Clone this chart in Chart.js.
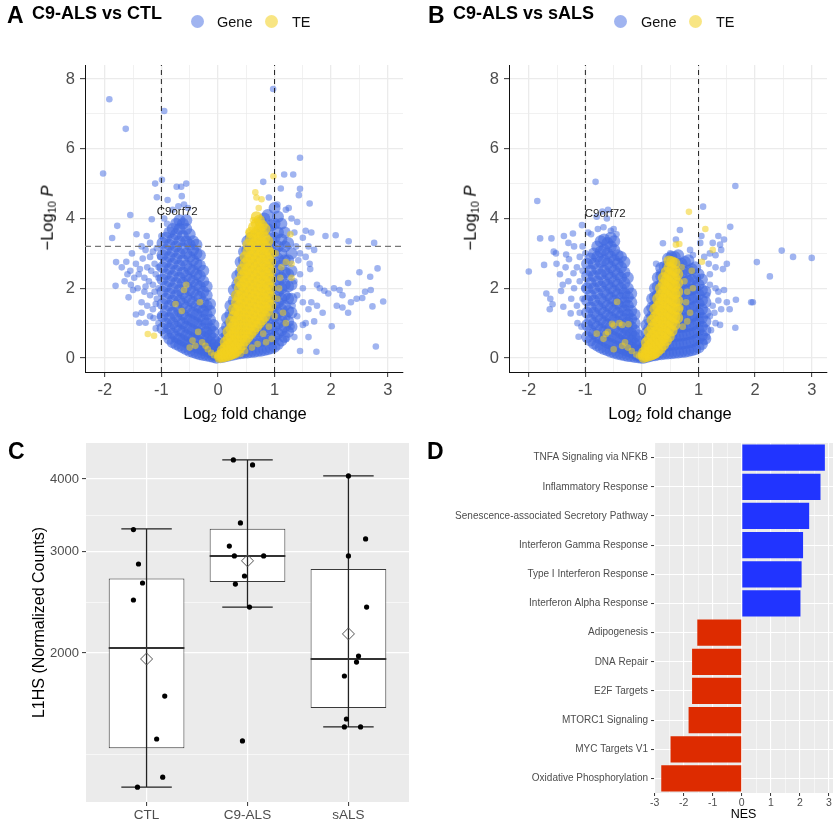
<!DOCTYPE html>
<html>
<head>
<meta charset="utf-8">
<title>C9-ALS transcriptome panels</title>
<script src="https://cdn.jsdelivr.net/npm/chart.js@4.4.1/dist/chart.umd.min.js"></script>
<style>
  html, body { margin: 0; padding: 0; background: #fff; }
  #fig { position: relative; width: 837px; height: 822px; overflow: hidden;
         font-family: "Liberation Sans", Arial, Helvetica, sans-serif; color: #000; }
  #fig canvas { position: absolute; }
  .lbl { position: absolute; white-space: nowrap; line-height: 1; }
  .letter { font-size: 23px; font-weight: bold; }
  .ttl { font-size: 18px; font-weight: bold; }
  .leg { font-size: 14.5px; color: #111; }
  .dot { position: absolute; width: 13px; height: 13px; border-radius: 50%; }
  .axt { font-size: 16.5px; }
  .axt sub { font-size: 11px; vertical-align: -3px; line-height: 0; }
  .rot { transform: translate(-50%, -50%) rotate(-90deg); }
  .ctr { transform: translate(-50%, -50%); }
</style>
</head>
<body>
<div id="fig">
  <canvas id="volcanoA" width="420" height="400" style="left:0;top:0"></canvas>
  <canvas id="volcanoB" width="417" height="400" style="left:420px;top:0"></canvas>
  <canvas id="boxC" width="420" height="402" style="left:0;top:420px"></canvas>
  <canvas id="gseaD" width="417" height="402" style="left:420px;top:420px"></canvas>

  <div class="lbl letter" style="left:7px;top:4px">A</div>
  <div class="lbl ttl" style="left:32px;top:4px">C9-ALS vs CTL</div>
  <span class="dot" style="left:191px;top:15px;background:rgba(65,105,225,0.5)"></span>
  <div class="lbl leg" style="left:217px;top:15px">Gene</div>
  <span class="dot" style="left:265px;top:15px;background:rgba(242,208,30,0.55)"></span>
  <div class="lbl leg" style="left:292px;top:15px">TE</div>
  <div class="lbl axt rot" style="left:47px;top:218px">&minus;Log<sub>10</sub> <i>P</i></div>
  <div class="lbl axt ctr" style="left:245px;top:413px">Log<sub>2</sub> fold change</div>

  <div class="lbl letter" style="left:428px;top:4px">B</div>
  <div class="lbl ttl" style="left:453px;top:4px">C9-ALS vs sALS</div>
  <span class="dot" style="left:614px;top:15px;background:rgba(65,105,225,0.5)"></span>
  <div class="lbl leg" style="left:641px;top:15px">Gene</div>
  <span class="dot" style="left:689px;top:15px;background:rgba(242,208,30,0.55)"></span>
  <div class="lbl leg" style="left:716px;top:15px">TE</div>
  <div class="lbl axt rot" style="left:470px;top:218px">&minus;Log<sub>10</sub> <i>P</i></div>
  <div class="lbl axt ctr" style="left:670px;top:413px">Log<sub>2</sub> fold change</div>

  <div class="lbl letter" style="left:8px;top:440px">C</div>
  <div class="lbl letter" style="left:427px;top:440px">D</div>
</div>

<script>
// ---------- panel A: C9-ALS vs CTL (log2FC, -log10 P) ----------
// dense clouds are kept as columns: [log2FC, [-log10P values ...]]
const geneA_dense = [
  [-0.98, [0.85, 1.2, 1.55, 1.9, 2.25, 2.6, 2.95, 3.3]],
  [-0.92, [0.7, 1.0, 1.35, 1.7, 2.05, 2.4, 2.75, 3.1, 3.45]],
  [-0.86, [0.55, 0.85, 1.15, 1.5, 1.85, 2.2, 2.55, 2.9, 3.25, 3.6]],
  [-0.8, [0.45, 0.7, 1.0, 1.3, 1.65, 2.0, 2.35, 2.7, 3.05, 3.4, 3.7]],
  [-0.74, [0.4, 0.6, 0.9, 1.2, 1.5, 1.8, 2.15, 2.5, 2.85, 3.2, 3.55, 3.85]],
  [-0.68, [0.35, 0.55, 0.8, 1.05, 1.35, 1.65, 1.95, 2.3, 2.65, 3.0, 3.35, 3.7, 3.95]],
  [-0.62, [0.3, 0.5, 0.75, 1.0, 1.25, 1.55, 1.85, 2.15, 2.45, 2.8, 3.15, 3.5, 3.85]],
  [-0.56, [0.25, 0.45, 0.65, 0.9, 1.15, 1.45, 1.75, 2.05, 2.35, 2.65, 3.0, 3.35, 3.7, 3.95]],
  [-0.5, [0.2, 0.4, 0.6, 0.85, 1.1, 1.35, 1.65, 1.95, 2.25, 2.55, 2.9, 3.25, 3.55]],
  [-0.44, [0.17, 0.35, 0.55, 0.8, 1.05, 1.3, 1.6, 1.9, 2.2, 2.5, 2.8, 3.1, 3.35]],
  [-0.38, [0.14, 0.3, 0.5, 0.75, 1.0, 1.25, 1.5, 1.8, 2.1, 2.4, 2.7, 3.0, 3.25]],
  [-0.32, [0.11, 0.27, 0.45, 0.7, 0.95, 1.2, 1.45, 1.75, 2.05, 2.35, 2.65, 2.95]],
  [-0.26, [0.09, 0.24, 0.4, 0.6, 0.85, 1.1, 1.35, 1.6, 1.9, 2.2, 2.5]],
  [-0.2, [0.07, 0.2, 0.35, 0.55, 0.75, 1.0, 1.25, 1.5, 1.8, 2.05]],
  [-0.14, [0.05, 0.16, 0.3, 0.45, 0.65, 0.85, 1.1, 1.35, 1.55]],
  [-0.08, [0.03, 0.12, 0.24, 0.38, 0.55, 0.75, 0.95]],
  [-0.03, [0.01, 0.08, 0.18, 0.3, 0.45]],
  [0.04, [0.02, 0.12, 0.25, 0.4]],
  [0.1, [0.04, 0.18, 0.35, 0.55, 0.75]],
  [0.16, [0.06, 0.22, 0.42, 0.65, 0.9, 1.15]],
  [0.22, [0.08, 0.26, 0.5, 0.75, 1.0, 1.25, 1.5]],
  [0.28, [0.1, 0.3, 0.55, 0.8, 1.05, 1.35, 1.65, 1.95]],
  [0.34, [0.12, 0.33, 0.6, 0.9, 1.2, 1.5, 1.8, 2.1, 2.35]],
  [0.4, [0.14, 0.36, 0.65, 0.95, 1.25, 1.55, 1.85, 2.15, 2.45, 2.75]],
  [0.46, [0.15, 0.38, 0.7, 1.0, 1.3, 1.6, 1.9, 2.2, 2.5, 2.8, 3.05]],
  [0.52, [0.16, 0.4, 0.7, 1.0, 1.3, 1.6, 1.9, 2.2, 2.5, 2.8, 3.1, 3.35]],
  [0.58, [0.17, 0.42, 0.72, 1.02, 1.32, 1.62, 1.92, 2.22, 2.52, 2.82, 3.12, 3.45]],
  [0.64, [0.18, 0.44, 0.75, 1.05, 1.35, 1.65, 1.95, 2.25, 2.55, 2.85, 3.15, 3.5]],
  [0.7, [0.2, 0.46, 0.76, 1.06, 1.36, 1.66, 1.96, 2.26, 2.56, 2.86, 3.2, 3.55]],
  [0.76, [0.21, 0.48, 0.78, 1.08, 1.38, 1.68, 1.98, 2.28, 2.58, 2.9, 3.25, 3.6, 3.9]],
  [0.82, [0.23, 0.5, 0.8, 1.1, 1.4, 1.7, 2.0, 2.3, 2.6, 2.95, 3.3, 3.65, 4.0]],
  [0.88, [0.25, 0.52, 0.82, 1.12, 1.42, 1.72, 2.02, 2.32, 2.62, 2.95, 3.3, 3.7, 4.1]],
  [0.94, [0.28, 0.55, 0.85, 1.15, 1.45, 1.75, 2.05, 2.35, 2.7, 3.05, 3.4, 3.8]],
  [1.0, [0.32, 0.6, 0.9, 1.2, 1.5, 1.8, 2.1, 2.4, 2.75, 3.1, 3.45, 3.85, 4.3]],
  [1.06, [0.4, 0.7, 1.0, 1.3, 1.6, 1.9, 2.2, 2.5, 2.85, 3.2, 3.6, 4.05]],
  [1.12, [0.5, 0.8, 1.1, 1.4, 1.7, 2.0, 2.3, 2.65, 3.0, 3.4, 3.85]],
  [1.18, [0.6, 0.9, 1.2, 1.5, 1.8, 2.1, 2.45, 2.8, 3.2, 3.6]],
  [1.24, [0.75, 1.05, 1.35, 1.7, 2.05, 2.4, 2.8, 3.3]],
  [1.3, [0.9, 1.3, 1.7, 2.1, 2.5, 3.0]]
];
const geneA_sparse = [
  [-2.03, 5.29], [-1.92, 7.42], [-1.63, 6.57], [-0.95, 7.08], [-0.99, 5.11], [-1.11, 5.0], [-1.08, 4.61],
  [-0.73, 4.91], [-0.65, 4.91], [-0.56, 5.0], [-0.89, 4.53], [-0.64, 4.64], [-0.6, 4.4], [-0.53, 4.3],
  [-0.8, 4.25], [-0.7, 4.35], [-0.95, 4.0], [-0.9, 3.85],
  [-1.55, 4.1], [-1.17, 3.98], [-1.78, 3.79], [-1.44, 3.55], [-1.87, 3.44], [-1.26, 3.5], [-1.35, 3.2],
  [-1.8, 2.75], [-1.62, 2.76], [-1.81, 2.07], [-1.58, 1.74], [-1.54, 2.1], [-1.39, 1.01], [-1.28, 1.01], [-1.1, 0.85],
  [-1.52, 3.0], [-1.45, 2.7], [-1.4, 2.4], [-1.48, 2.3], [-1.42, 2.0], [-1.5, 1.95], [-1.35, 1.6], [-1.3, 1.9],
  [-1.3, 2.3], [-1.25, 2.6], [-1.2, 2.9], [-1.2, 3.3], [-1.15, 3.05], [-1.12, 2.7], [-1.1, 2.4], [-1.15, 2.1],
  [-1.2, 1.8], [-1.25, 1.5], [-1.2, 1.2], [-1.15, 1.4], [-1.08, 1.7], [-1.05, 2.0], [-1.05, 2.3], [-1.05, 2.6],
  [-1.02, 2.9], [-1.08, 3.15], [-1.0, 3.5], [-1.02, 1.2], [-1.05, 1.0], [-1.35, 1.3], [-1.45, 1.25], [-1.33, 2.85],
  [-1.38, 2.55], [-1.6, 2.4], [-1.65, 2.2], [-1.55, 2.5], [-1.7, 2.6], [-1.28, 3.1], [-1.18, 2.5], [-1.12, 1.9],
  [-1.28, 2.05], [-1.22, 2.2], [-1.1, 1.55], [-1.14, 1.15],
  [0.975, 7.71], [1.45, 5.74], [1.17, 5.26], [1.33, 5.26], [0.8, 5.05], [1.45, 4.85], [1.43, 4.67], [1.11, 4.86],
  [1.62, 4.43], [0.9, 4.6], [1.05, 4.4], [1.2, 4.25], [1.25, 4.3], [1.3, 4.0], [1.4, 3.9], [1.35, 3.6],
  [1.55, 3.65], [1.65, 3.6], [1.5, 3.45], [1.6, 3.2], [1.7, 3.1], [1.9, 3.5], [2.08, 3.52], [2.31, 3.35], [2.76, 3.3],
  [1.45, 3.0], [1.55, 2.9], [1.62, 2.7], [1.63, 2.55], [1.42, 2.8], [1.38, 3.2], [1.35, 2.2], [1.45, 2.4],
  [1.5, 2.0], [1.4, 1.8], [1.65, 1.6], [1.5, 1.6], [1.75, 2.1], [1.8, 2.0], [1.88, 1.93], [1.95, 1.85],
  [2.05, 2.0], [2.15, 1.95], [2.2, 1.8], [2.3, 2.15], [2.35, 1.6], [2.45, 1.7], [2.55, 1.72], [2.6, 1.9],
  [2.7, 1.95], [2.5, 2.46], [2.82, 2.57], [2.69, 2.33], [2.92, 1.62], [2.73, 1.48], [2.1, 1.5], [2.2, 1.45],
  [2.3, 1.3], [1.85, 1.3], [1.75, 1.5], [1.7, 1.05], [1.6, 1.4], [1.4, 1.2], [1.32, 1.5], [1.3, 0.9],
  [1.55, 1.0], [1.5, 0.95], [1.35, 0.6], [1.2, 0.55], [1.6, 0.6], [2.01, 0.91], [2.79, 0.33], [1.74, 0.18], [1.45, 0.2]
];
const teA_dense = [
  [0.03, [0.02, 0.08]],
  [0.08, [0.03, 0.12, 0.22]],
  [0.13, [0.05, 0.16, 0.3, 0.45]],
  [0.18, [0.07, 0.2, 0.36, 0.55, 0.75]],
  [0.23, [0.1, 0.25, 0.42, 0.62, 0.85, 1.05]],
  [0.28, [0.14, 0.3, 0.5, 0.72, 0.95, 1.2, 1.4]],
  [0.33, [0.2, 0.38, 0.6, 0.85, 1.1, 1.35, 1.6, 1.8]],
  [0.38, [0.28, 0.48, 0.72, 0.98, 1.25, 1.5, 1.75, 2.0, 2.2]],
  [0.43, [0.38, 0.6, 0.85, 1.1, 1.35, 1.6, 1.85, 2.1, 2.35, 2.55]],
  [0.48, [0.5, 0.72, 0.96, 1.2, 1.45, 1.7, 1.95, 2.2, 2.45, 2.7, 2.9]],
  [0.53, [0.6, 0.84, 1.08, 1.32, 1.56, 1.8, 2.05, 2.3, 2.55, 2.8, 3.05, 3.25]],
  [0.58, [0.7, 0.94, 1.18, 1.42, 1.66, 1.9, 2.15, 2.4, 2.65, 2.9, 3.15, 3.4, 3.6]],
  [0.63, [0.8, 1.04, 1.28, 1.52, 1.76, 2.0, 2.25, 2.5, 2.75, 3.0, 3.25, 3.5, 3.75]],
  [0.68, [0.9, 1.14, 1.38, 1.62, 1.86, 2.1, 2.35, 2.6, 2.85, 3.1, 3.35, 3.6, 3.85, 4.05]],
  [0.73, [1.0, 1.24, 1.48, 1.72, 1.96, 2.2, 2.45, 2.7, 2.95, 3.2, 3.45, 3.7, 3.95]],
  [0.78, [1.1, 1.34, 1.58, 1.82, 2.06, 2.3, 2.55, 2.8, 3.05, 3.3, 3.55, 3.8]],
  [0.83, [1.2, 1.45, 1.7, 1.95, 2.2, 2.45, 2.7, 2.95, 3.2, 3.45, 3.7]],
  [0.88, [1.35, 1.6, 1.85, 2.1, 2.35, 2.6, 2.85, 3.1, 3.35]],
  [0.93, [1.5, 1.75, 2.0, 2.25, 2.5, 2.75, 3.0]]
];
const teA_sparse = [
  [0.98, 5.21], [0.66, 4.75], [0.68, 4.6], [0.77, 4.55], [0.72, 4.3], [0.62, 3.95], [0.55, 3.6],
  [-0.56, 2.1], [-0.6, 1.95], [-0.75, 1.55], [-0.64, 1.35], [-0.32, 1.6], [-0.35, 0.75], [-0.28, 0.45],
  [-0.22, 0.35], [-0.18, 0.25], [-0.12, 0.15], [-0.07, 0.08], [-1.24, 0.69], [-1.13, 0.64],
  [1.1, 2.3], [1.12, 2.6], [1.2, 2.75], [1.3, 2.3], [1.3, 2.7], [1.28, 3.55], [1.05, 1.7], [1.08, 2.0],
  [1.02, 3.0], [0.95, 0.55], [0.85, 0.45], [0.7, 0.4], [0.8, 0.7], [0.6, 0.3], [0.4, 0.12], [0.48, 0.2],
  [1.15, 1.3], [1.2, 1.0], [1.0, 1.2], [0.9, 0.9], [-0.45, 0.5], [-0.5, 0.3], [-0.4, 0.35],
  [0.15, 0.03], [0.25, 0.06], [0.32, 0.08]
];

// ---------- panel B: C9-ALS vs sALS ----------
const geneB_dense = [
  [-0.97, [0.6, 0.95, 1.3, 1.65, 2.0, 2.35, 2.7]],
  [-0.91, [0.5, 0.8, 1.1, 1.45, 1.8, 2.15, 2.5, 2.85]],
  [-0.85, [0.42, 0.7, 1.0, 1.3, 1.65, 2.0, 2.35, 2.7, 3.0]],
  [-0.79, [0.36, 0.6, 0.9, 1.2, 1.5, 1.85, 2.2, 2.55, 2.9, 3.2]],
  [-0.73, [0.3, 0.55, 0.82, 1.1, 1.4, 1.7, 2.05, 2.4, 2.75, 3.05, 3.35]],
  [-0.67, [0.26, 0.5, 0.76, 1.02, 1.3, 1.6, 1.9, 2.2, 2.5, 2.8, 3.1, 3.4]],
  [-0.61, [0.22, 0.44, 0.7, 0.96, 1.22, 1.5, 1.8, 2.1, 2.4, 2.7, 3.0, 3.3]],
  [-0.55, [0.18, 0.4, 0.64, 0.9, 1.16, 1.44, 1.72, 2.0, 2.3, 2.6, 2.9, 3.2, 3.45]],
  [-0.49, [0.15, 0.36, 0.6, 0.85, 1.1, 1.36, 1.64, 1.92, 2.2, 2.5, 2.8, 3.1, 3.35]],
  [-0.43, [0.12, 0.32, 0.55, 0.8, 1.05, 1.3, 1.56, 1.82, 2.1, 2.4, 2.7, 2.95]],
  [-0.37, [0.1, 0.28, 0.5, 0.72, 0.96, 1.2, 1.46, 1.72, 2.0, 2.3, 2.6, 2.9]],
  [-0.31, [0.08, 0.24, 0.44, 0.65, 0.88, 1.12, 1.36, 1.6, 1.86, 2.15, 2.45, 2.75]],
  [-0.25, [0.06, 0.2, 0.38, 0.58, 0.8, 1.02, 1.25, 1.5, 1.75, 2.0, 2.3]],
  [-0.19, [0.05, 0.17, 0.32, 0.5, 0.7, 0.9, 1.12, 1.35, 1.6, 1.85]],
  [-0.13, [0.03, 0.13, 0.26, 0.42, 0.6, 0.8, 1.0, 1.25]],
  [-0.07, [0.02, 0.09, 0.2, 0.33, 0.48, 0.65]],
  [-0.02, [0.01, 0.06, 0.14, 0.22]],
  [0.03, [0.01, 0.08, 0.18, 0.3]],
  [0.08, [0.03, 0.14, 0.3, 0.5, 0.72, 0.95]],
  [0.13, [0.05, 0.2, 0.4, 0.62, 0.86, 1.1, 1.35]],
  [0.18, [0.07, 0.24, 0.46, 0.7, 0.95, 1.2, 1.45, 1.7]],
  [0.23, [0.08, 0.28, 0.5, 0.75, 1.0, 1.25, 1.5, 1.75, 2.0]],
  [0.28, [0.1, 0.3, 0.54, 0.78, 1.02, 1.28, 1.54, 1.8, 2.05, 2.3]],
  [0.34, [0.11, 0.32, 0.56, 0.8, 1.05, 1.3, 1.56, 1.82, 2.08, 2.34, 2.58]],
  [0.4, [0.12, 0.34, 0.58, 0.82, 1.07, 1.32, 1.58, 1.84, 2.1, 2.36, 2.62]],
  [0.46, [0.13, 0.36, 0.6, 0.84, 1.08, 1.34, 1.6, 1.86, 2.12, 2.38, 2.64, 2.85]],
  [0.52, [0.14, 0.38, 0.62, 0.86, 1.1, 1.36, 1.62, 1.88, 2.14, 2.4, 2.66, 2.9]],
  [0.58, [0.15, 0.38, 0.62, 0.86, 1.1, 1.36, 1.62, 1.88, 2.14, 2.4, 2.66, 2.9]],
  [0.64, [0.16, 0.4, 0.64, 0.88, 1.12, 1.38, 1.64, 1.9, 2.16, 2.42, 2.68, 2.95]],
  [0.7, [0.17, 0.4, 0.64, 0.88, 1.12, 1.38, 1.64, 1.9, 2.16, 2.42, 2.7]],
  [0.76, [0.18, 0.42, 0.66, 0.9, 1.14, 1.4, 1.66, 1.92, 2.18, 2.45, 2.75]],
  [0.82, [0.2, 0.44, 0.68, 0.92, 1.16, 1.42, 1.68, 1.94, 2.2, 2.5, 2.8]],
  [0.88, [0.22, 0.46, 0.7, 0.94, 1.18, 1.44, 1.7, 1.96, 2.24, 2.55]],
  [0.94, [0.25, 0.5, 0.74, 0.98, 1.22, 1.48, 1.74, 2.0, 2.3, 2.6]],
  [1.0, [0.3, 0.55, 0.8, 1.05, 1.3, 1.56, 1.82, 2.1, 2.4]],
  [1.06, [0.4, 0.65, 0.9, 1.15, 1.4, 1.66, 1.95, 2.25]],
  [1.12, [0.55, 0.8, 1.05, 1.3, 1.6, 1.9]]
];
const geneB_sparse = [
  [-0.82, 5.05], [-1.85, 4.5], [-2.0, 2.48], [-1.8, 3.43], [-1.6, 3.43], [-1.38, 3.5], [-1.22, 3.57],
  [-1.06, 3.81], [-1.56, 3.05], [-1.52, 3.0], [-1.73, 2.67], [-1.51, 2.7], [-1.34, 2.97], [-1.29, 2.83],
  [-1.69, 1.85], [-1.62, 1.7], [-1.58, 1.54], [-1.63, 1.4], [-1.39, 1.47], [-1.26, 1.28], [-1.43, 1.92],
  [-1.14, 1.0], [-1.07, 0.9], [-1.12, 0.61], [-0.8, 4.05], [-0.62, 4.0], [-0.7, 4.2], [-0.6, 4.25],
  [-0.78, 3.7], [-0.68, 3.75], [-0.95, 3.6], [-0.9, 3.55], [-1.21, 2.43], [-1.3, 2.2], [-1.2, 2.0],
  [-1.1, 2.2], [-1.15, 2.6], [-1.05, 2.5], [-1.1, 2.9], [-1.05, 3.2], [-1.0, 3.0], [-1.25, 1.7],
  [-1.15, 1.5], [-1.1, 1.3], [-1.05, 1.7], [-1.02, 2.0], [-1.35, 2.6], [-1.45, 2.4], [-1.4, 2.1],
  [-1.2, 3.2], [-1.3, 3.3], [-0.5, 3.7], [-0.45, 3.55], [-0.55, 3.65],
  [1.65, 4.93], [1.08, 4.34], [1.56, 3.76], [2.47, 3.08], [2.67, 2.9], [3.0, 2.87], [2.03, 2.75],
  [2.26, 2.34], [1.66, 1.67], [1.93, 1.6], [1.96, 1.6], [1.65, 0.87], [0.67, 3.67], [0.37, 3.29],
  [0.6, 3.4], [1.05, 3.5], [1.03, 3.3], [1.35, 3.5], [1.45, 3.4], [1.38, 3.25], [1.4, 3.1], [1.3, 2.95],
  [1.2, 3.0], [1.25, 3.3], [1.1, 2.9], [1.18, 2.7], [1.3, 2.6], [1.5, 2.7], [1.43, 2.55], [1.2, 2.4],
  [1.3, 2.0], [1.35, 1.9], [1.45, 1.95], [1.5, 1.6], [1.4, 1.4], [1.25, 1.5], [1.2, 1.2], [1.3, 1.0],
  [1.38, 0.95], [1.22, 0.8], [1.15, 0.6], [1.1, 0.45], [1.28, 1.3], [1.35, 1.65], [1.55, 1.4],
  [1.15, 1.8], [1.2, 2.1], [0.5, 3.0], [0.85, 3.1], [0.9, 2.95], [0.25, 2.7], [0.3, 2.45]
];
const teB_dense = [
  [0.03, [0.02, 0.08, 0.16]],
  [0.08, [0.04, 0.14, 0.28, 0.44]],
  [0.13, [0.07, 0.2, 0.36, 0.55, 0.75]],
  [0.18, [0.1, 0.26, 0.44, 0.64, 0.86, 1.08]],
  [0.23, [0.14, 0.32, 0.52, 0.74, 0.96, 1.18, 1.4]],
  [0.28, [0.2, 0.4, 0.6, 0.82, 1.04, 1.26, 1.48, 1.7]],
  [0.33, [0.28, 0.48, 0.7, 0.92, 1.14, 1.36, 1.58, 1.8, 2.0]],
  [0.38, [0.38, 0.58, 0.8, 1.02, 1.24, 1.46, 1.68, 1.9, 2.12, 2.3]],
  [0.43, [0.5, 0.7, 0.92, 1.14, 1.36, 1.58, 1.8, 2.02, 2.24, 2.46]],
  [0.48, [0.62, 0.84, 1.06, 1.28, 1.5, 1.72, 1.94, 2.16, 2.38, 2.6, 2.78]],
  [0.53, [0.78, 1.0, 1.22, 1.44, 1.66, 1.88, 2.1, 2.32, 2.54, 2.76]],
  [0.58, [0.95, 1.17, 1.4, 1.62, 1.84, 2.06, 2.28, 2.5, 2.72]],
  [0.63, [1.15, 1.4, 1.65, 1.9, 2.15, 2.4]]
];
const teB_sparse = [
  [0.83, 4.19], [1.12, 3.7], [0.6, 3.25], [0.66, 3.27], [1.25, 3.1], [1.06, 2.76], [0.7, 2.6], [0.75, 2.2],
  [0.8, 1.9], [0.78, 1.6], [0.85, 1.3], [0.8, 1.05], [0.72, 0.9], [0.68, 1.45], [0.88, 2.5], [0.9, 2.0],
  [-0.44, 1.61], [-0.53, 0.98], [-0.5, 0.93], [-0.4, 1.0], [-0.24, 0.97], [-0.64, 0.69], [-0.6, 0.75],
  [-0.8, 0.7], [-0.68, 0.55], [-0.35, 0.95], [-0.5, 0.25], [-0.3, 0.45], [-0.25, 0.3], [-0.35, 0.35],
  [-0.18, 0.2], [-0.1, 0.1], [-0.05, 0.05], [0.1, 0.03], [0.2, 0.05], [0.25, 0.08]
];

// volcano axes
const volXLim = [-2.35, 3.27];
const volYLim = [-0.4, 8.4];
const volXTicks = [-2, -1.5, -1, -0.5, 0, 0.5, 1, 1.5, 2, 2.5, 3];
const volYTicks = [0, 1, 2, 3, 4, 5, 6, 7, 8];
const foldCut = [-1, 1];

// ---------- panel C: L1HS normalized counts ----------
const groups = ['CTL', 'C9-ALS', 'sALS'];
const boxQ1 = [1369, 2654, 1606];
const boxMedian = [2040, 2944, 1953];
const boxQ3 = [2690, 3280, 2795];
const whiskerLow = [1172, 2402, 1490];
const whiskerHigh = [3278, 4315, 4048];
const groupMean = [1953, 2887, 2158];
const countsCTL = [3270, 2851, 2643, 2470, 1685, 1420, 1220, 1172];
const jitterCTL = [-0.13, -0.08, -0.04, -0.13, 0.18, 0.1, 0.16, -0.09];
const countsC9 = [4315, 4230, 3357, 3062, 2944, 2944, 2718, 2632, 2402, 1409];
const jitterC9 = [-0.14, 0.05, -0.07, -0.18, -0.13, 0.16, -0.03, -0.12, 0.02, -0.05];
const countsSALS = [4048, 3150, 2944, 2402, 1976, 1929, 1825, 1538, 1490, 1490];
const jitterSALS = [0, 0.17, 0, 0.18, 0.1, 0.08, -0.04, -0.02, -0.04, 0.12];
const countMajor = [2000, 3000, 4000];
const countMinor = [1333, 2449, 3464];

// ---------- panel D: GSEA hallmark NES ----------
const pathways = [
  'TNFA Signaling via NFKB', 'Inflammatory Response', 'Senescence-associated Secretory Pathway',
  'Interferon Gamma Response', 'Type I Interferon Response', 'Interferon Alpha Response',
  'Adipogenesis', 'DNA Repair', 'E2F Targets', 'MTORC1 Signaling', 'MYC Targets V1',
  'Oxidative Phosphorylation'
];
const nes = [2.86, 2.71, 2.32, 2.11, 2.06, 2.02, -1.53, -1.71, -1.71, -1.83, -2.45, -2.77];
const nesTicks = [-3, -2.5, -2, -1.5, -1, -0.5, 0, 0.5, 1, 1.5, 2, 2.5, 3];

// ---------- drawing ----------
const FONT = '"Liberation Sans", Arial, Helvetica, sans-serif';
Chart.defaults.font.family = FONT;
const GENE_COL = 'rgba(65,105,225,0.5)';
const TE_COL = 'rgba(242,208,30,0.55)';
const GENE_CORE = 'rgba(65,105,225,0.6)';
const TE_CORE = 'rgba(242,208,30,0.7)';
const AXIS_TXT = '#4D4D4D';

function expand(columns) {
  const pts = [];
  columns.forEach(([x, ys]) => ys.forEach(y => pts.push({ x: x, y: y })));
  return pts;
}
function toPoints(list) {
  return list.map(([x, y]) => ({ x: x, y: y }));
}
function setTicks(values) {
  return scale => { scale.ticks = values.map(v => ({ value: v })); };
}

// fills the plotting panel (ggplot grey theme)
const panelBg = {
  id: 'panelBg',
  beforeDraw(chart, args, opts) {
    if (!opts.color) return;
    const { ctx, chartArea: a } = chart;
    ctx.save();
    ctx.fillStyle = opts.color;
    ctx.fillRect(a.left, a.top, a.width, a.height);
    ctx.restore();
  }
};
// text label placed at a data position
const geneLabel = {
  id: 'geneLabel',
  afterDatasetsDraw(chart, args, opts) {
    if (!opts.text) return;
    const { ctx, scales } = chart;
    ctx.save();
    ctx.font = '11.5px ' + FONT;
    ctx.fillStyle = '#1a1a1a';
    ctx.textAlign = 'center';
    ctx.textBaseline = 'middle';
    ctx.fillText(opts.text, scales.x.getPixelForValue(opts.x), scales.y.getPixelForValue(opts.y));
    ctx.restore();
  }
};
Chart.register(panelBg, geneLabel);

function volcano(id, yAxisWidth, padRight, geneDense, geneSparse, teDense, teSparse, pCut, label) {
  const datasets = foldCut.map(fc => ({
    data: [{ x: fc, y: volYLim[0] }, { x: fc, y: volYLim[1] }],
    showLine: true, pointRadius: 0, borderColor: '#222', borderWidth: 1, borderDash: [5, 4], order: 0
  }));
  if (pCut !== null) {
    datasets.push({
      data: [{ x: volXLim[0], y: pCut }, { x: volXLim[1], y: pCut }],
      showLine: true, pointRadius: 0, borderColor: '#777', borderWidth: 1.3, borderDash: [6, 4], order: 0
    });
  }
  // overlapping points in the core of each cloud are drawn with a larger footprint
  datasets.push(
    { label: 'TE', data: toPoints(teSparse), backgroundColor: TE_COL, borderWidth: 0, pointRadius: 3.3, order: 1 },
    { label: 'TE core', data: expand(teDense), backgroundColor: TE_CORE, borderWidth: 0, pointRadius: 5.6, order: 2 },
    { label: 'Gene', data: toPoints(geneSparse), backgroundColor: GENE_COL, borderWidth: 0, pointRadius: 3.3, order: 3 },
    { label: 'Gene core', data: expand(geneDense), backgroundColor: GENE_CORE, borderWidth: 0, pointRadius: 6, order: 4 }
  );

  return new Chart(id, {
    type: 'scatter',
    data: { datasets: datasets },
    options: {
      responsive: false, animation: false, devicePixelRatio: 1,
      layout: { padding: { top: 65, right: padRight, left: 0, bottom: 0 } },
      plugins: { legend: { display: false }, tooltip: { enabled: false }, geneLabel: label },
      scales: {
        x: {
          type: 'linear', min: volXLim[0], max: volXLim[1],
          afterBuildTicks: setTicks(volXTicks),
          afterFit: s => { s.height = 28; },
          grid: {
            color: '#EBEBEB', tickLength: 5, tickWidth: 1,
            lineWidth: c => Number.isInteger(c.tick.value) ? 1.3 : 0.7,
            tickColor: c => Number.isInteger(c.tick.value) ? '#333' : 'rgba(0,0,0,0)'
          },
          border: { display: true, color: '#111', width: 1 },
          ticks: {
            autoSkip: false, maxRotation: 0, padding: 4, color: AXIS_TXT, font: { size: 16.5 },
            callback: v => Number.isInteger(v) ? String(v) : ''
          }
        },
        y: {
          type: 'linear', min: volYLim[0], max: volYLim[1],
          afterBuildTicks: setTicks(volYTicks),
          afterFit: s => { s.width = yAxisWidth; },
          grid: {
            color: '#EBEBEB', tickLength: 5, tickWidth: 1,
            lineWidth: c => c.tick.value % 2 === 0 ? 1.3 : 0.7,
            tickColor: c => c.tick.value % 2 === 0 ? '#333' : 'rgba(0,0,0,0)'
          },
          border: { display: true, color: '#111', width: 1 },
          ticks: {
            autoSkip: false, padding: 5, color: AXIS_TXT, font: { size: 16.5 },
            callback: v => v % 2 === 0 ? String(v) : ''
          }
        }
      }
    }
  });
}

volcano('volcanoA', 85, 17, geneA_dense, geneA_sparse, teA_dense, teA_sparse, 3.2,
  { text: 'C9orf72', x: -0.72, y: 4.2 });
volcano('volcanoB', 89, 10, geneB_dense, geneB_sparse, teB_dense, teB_sparse, null,
  { text: 'C9orf72', x: -0.65, y: 4.13 });

// ---- panel C: box plots on a log axis ----
const groupCounts = [countsCTL, countsC9, countsSALS];
const groupJitter = [jitterCTL, jitterC9, jitterSALS];
const BOX_HALF = 0.375, CAP_HALF = 0.25;

const whiskerSegs = [], medianSegs = [], jitterPts = [], meanPts = [];
groups.forEach((g, i) => {
  const cx = i + 1;
  whiskerSegs.push({ x: cx, y: whiskerLow[i] }, { x: cx, y: whiskerHigh[i] }, { x: cx, y: null });
  whiskerSegs.push({ x: cx - CAP_HALF, y: whiskerHigh[i] }, { x: cx + CAP_HALF, y: whiskerHigh[i] }, { x: cx, y: null });
  whiskerSegs.push({ x: cx - CAP_HALF, y: whiskerLow[i] }, { x: cx + CAP_HALF, y: whiskerLow[i] }, { x: cx, y: null });
  medianSegs.push({ x: cx - BOX_HALF, y: boxMedian[i] }, { x: cx + BOX_HALF, y: boxMedian[i] }, { x: cx, y: null });
  meanPts.push({ x: cx, y: groupMean[i] });
  groupCounts[i].forEach((v, j) => jitterPts.push({ x: cx + groupJitter[i][j], y: v }));
});

new Chart('boxC', {
  type: 'scatter',
  data: {
    datasets: [
      { type: 'bar', data: groups.map((g, i) => ({ x: i + 1, y: [boxQ1[i], boxQ3[i]] })),
        backgroundColor: '#fff', borderColor: '#3a3a3a', borderWidth: 1, borderSkipped: false,
        barPercentage: BOX_HALF * 2, categoryPercentage: 1, order: 5 },
      { type: 'scatter', data: whiskerSegs, showLine: true, spanGaps: false, pointRadius: 0,
        borderColor: '#222', borderWidth: 1.3, order: 4 },
      { type: 'scatter', data: medianSegs, showLine: true, spanGaps: false, pointRadius: 0,
        borderColor: '#333', borderWidth: 2, order: 3 },
      { type: 'scatter', data: meanPts, pointStyle: 'rectRot', pointRadius: 6,
        backgroundColor: 'rgba(0,0,0,0)', borderColor: '#555', borderWidth: 1, order: 2 },
      { type: 'scatter', data: jitterPts, pointRadius: 2.6, backgroundColor: '#000',
        borderWidth: 0, order: 1 }
    ]
  },
  options: {
    responsive: false, animation: false, devicePixelRatio: 1,
    layout: { padding: { top: 23, right: 11, left: 0, bottom: 0 } },
    plugins: { legend: { display: false }, tooltip: { enabled: false }, panelBg: { color: '#EBEBEB' } },
    scales: {
      x: {
        type: 'linear', min: 0.4, max: 3.6, offset: false,
        afterBuildTicks: setTicks([1, 2, 3]),
        afterFit: s => { s.height = 20; },
        grid: { color: '#fff', lineWidth: 1.2, offset: false, tickLength: 4, tickColor: '#333', tickWidth: 1 },
        border: { display: false },
        ticks: { autoSkip: false, maxRotation: 0, padding: 1, color: AXIS_TXT, font: { size: 13.5 },
          callback: v => groups[v - 1] }
      },
      y: {
        type: 'logarithmic', min: 1105, max: 4616,
        afterBuildTicks: setTicks(countMinor.concat(countMajor).sort((a, b) => a - b)),
        afterFit: s => { s.width = 86; },
        grid: {
          color: '#fff', tickLength: 4, tickWidth: 1,
          lineWidth: c => countMajor.includes(c.tick.value) ? 1.2 : 0.6,
          tickColor: c => countMajor.includes(c.tick.value) ? '#333' : 'rgba(0,0,0,0)'
        },
        border: { display: false },
        ticks: { autoSkip: false, padding: 3, color: AXIS_TXT, font: { size: 13 },
          callback: v => countMajor.includes(v) ? String(v) : '' },
        title: { display: true, text: 'L1HS (Normalized Counts)', color: '#000', font: { size: 16 },
          padding: { top: 30, bottom: 0 } }
      }
    }
  }
});

// ---- panel D: NES bars ----
new Chart('gseaD', {
  type: 'bar',
  data: {
    labels: pathways,
    datasets: [{
      data: nes,
      backgroundColor: nes.map(v => v > 0 ? '#2134FF' : '#DD2B00'),
      borderWidth: 0, barPercentage: 0.9, categoryPercentage: 1
    }]
  },
  options: {
    indexAxis: 'y',
    responsive: false, animation: false, devicePixelRatio: 1,
    layout: { padding: { top: 23, right: 4, left: 0, bottom: 0 } },
    plugins: { legend: { display: false }, tooltip: { enabled: false }, panelBg: { color: '#EBEBEB' } },
    scales: {
      x: {
        type: 'linear', min: -3.02, max: 3.14,
        afterBuildTicks: setTicks(nesTicks),
        afterFit: s => { s.height = 29; },
        grid: {
          color: '#fff', tickLength: 3, tickWidth: 1,
          lineWidth: c => Number.isInteger(c.tick.value) ? 1.1 : 0.5,
          tickColor: c => Number.isInteger(c.tick.value) ? '#333' : 'rgba(0,0,0,0)'
        },
        border: { display: false },
        ticks: { autoSkip: false, maxRotation: 0, padding: 1, color: AXIS_TXT, font: { size: 10.5 },
          callback: v => Number.isInteger(v) ? String(v) : '' },
        title: { display: true, text: 'NES', color: '#000', font: { size: 12.5 }, padding: { top: 0, bottom: 0 } }
      },
      y: {
        afterFit: s => { s.width = 234; },
        grid: { color: '#fff', lineWidth: 1.1, offset: false, tickLength: 3, tickColor: '#333', tickWidth: 1 },
        border: { display: false },
        ticks: { autoSkip: false, padding: 3, color: AXIS_TXT, font: { size: 10 } }
      }
    }
  }
});
</script>
</body>
</html>
